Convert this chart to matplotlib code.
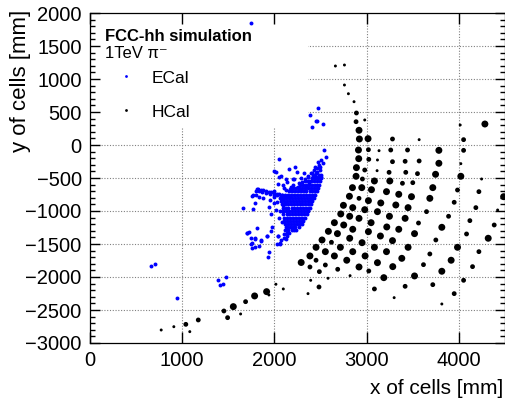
import numpy as np
import matplotlib
matplotlib.use("Agg")
import matplotlib.pyplot as plt
from matplotlib.patches import Rectangle

plt.rcParams['font.family'] = ['Liberation Sans', 'DejaVu Sans']

# ---- ECal cells (x, y in mm): sparse part
ecal = [
    (1741, 1853), (663, -1828), (707, -1803), (946, -2323), (1383, -2050), (1470, -2005),
    (1408, -2121), (1445, -2110),
    (2469, 565), (2385, 450), (2451, 364), (2464, 370), (2527, 314), (2404, 278),
    (2541, -76), (2556, -186), (2523, -277), (2494, -329),
    (2049, -217), (1995, -389), (2016, -404), (2157, -363), (2227, -338), (2248, -404),
    (2320, -419), (2067, -469), (2121, -520), (2201, -520), (2284, -505), (2364, -490),
    (2411, -429), (2466, -404), (2447, -480), (2501, -480),
    (2053, -480), (2042, -591), (2096, -606), (2140, -556), (2183, -632), (2212, -520),
    (2267, -581), (2285, -682), (2339, -632), (2375, -581), (2122, -682),
    (2300, -560), (2330, -520), (2360, -470), (2400, -420), (2430, -380), (2460, -350),
    (2480, -300), (2440, -330), (2250, -640), (2200, -600), (2170, -660), (2100, -650),
    (2000, -700), (2380, -540), (2420, -470), (2455, -420), (2490, -380), (2470, -260),
    (2505, -230),
    (1807, -666), (1821, -672), (1850, -682), (1879, -687), (1908, -697), (1937, -707),
    (1966, -717), (1995, -727), (2024, -738), (2053, -748), (2082, -758), (2111, -768),
    (2140, -778), (2169, -788),
    (1830, -700), (1870, -715), (1910, -725), (1950, -740), (1990, -750), (2030, -765),
    (2070, -780), (2110, -790),
    (1662, -955), (1767, -970), (1760, -773), (1789, -874), (1832, -783), (1941, -945),
    (1966, -1046), (2013, -985), (2060, -1000), (2089, -909), (1814, -1263), (1970, -1248),
    (1923, -1374), (1698, -1328), (1720, -1323), (1789, -1414), (1753, -1490), (1850, -1440),
    (1770, -760), (1796, -690), (1800, -760), (1880, -800), (1950, -830), (2000, -790),
    (1990, -880), (2030, -860),
    (2078, -823), (2111, -884), (2050, -1101), (2086, -1162), (2111, -1288), (2140, -1379),
    (2104, -1414), (2039, -1379), (2060, -1490), (2158, -1328), (2194, -1253), (2129, -1238),
    (1705, -1328), (1749, -1414), (1749, -1500), (1792, -1424), (1792, -1550), (1760, -1565),
    (1836, -1525), (1850, -1459), (1915, -1373), (1945, -1626), (1926, -1702), (1959, -1303),
    (2024, -1500), (2042, -1379), (2060, -1500), (2075, -1439), (2103, -1348), (2129, -1429),
    (2140, -1328),
]

# ---- ECal dense core, row by row: (y, x values)
ecal_core = [
    (-450, [2445, 2478, 2510]),
    (-503, [2404, 2436, 2470, 2500]),
    (-548, [2335, 2368, 2399, 2433, 2462, 2492]),
    (-601, [2274, 2306, 2340, 2371, 2404, 2437, 2466, 2483]),
    (-652, [2205, 2238, 2270, 2302, 2335, 2367, 2400, 2432, 2461, 2474]),
    (-698, [2154, 2187, 2219, 2250, 2284, 2316, 2347, 2381, 2412, 2440, 2458]),
    (-751, [2085, 2118, 2150, 2183, 2214, 2247, 2279, 2311, 2344, 2376, 2407, 2432, 2445]),
    (-799, [2064, 2096, 2129, 2161, 2193, 2226, 2258, 2290, 2322, 2355, 2387, 2412, 2424]),
    (-852, [2070, 2102, 2135, 2167, 2199, 2231, 2264, 2296, 2328, 2360, 2390, 2408]),
    (-898, [2078, 2111, 2143, 2175, 2207, 2240, 2272, 2304, 2336, 2368, 2393]),
    (-951, [2088, 2120, 2152, 2185, 2217, 2249, 2281, 2314, 2346, 2372, 2384]),
    (-1002, [2093, 2126, 2158, 2190, 2222, 2255, 2287, 2319, 2350, 2368]),
    (-1048, [2098, 2131, 2163, 2195, 2228, 2260, 2292, 2324, 2348]),
    (-1101, [2104, 2136, 2168, 2201, 2233, 2265, 2297, 2328]),
    (-1149, [2108, 2140, 2173, 2205, 2237, 2270, 2300, 2314]),
    (-1202, [2113, 2146, 2178, 2210, 2242, 2274, 2298]),
    (-1248, [2132, 2164, 2196, 2228, 2262]),
    (-1290, [2152, 2185, 2217, 2238]),
]

ecal_x = [p[0] for p in ecal] + [x for y, xs in ecal_core for x in xs]
ecal_y = [p[1] for p in ecal] + [y for y, xs in ecal_core for x in xs]

# ---- HCal cells (x, y in mm, relative energy level 1..3)
hcal = [
    (2661, 1197, 1), (2759, 1212, 1), (2759, 909, 1), (2802, 777, 1), (2863, 656, 1),
    (2889, 485, 2), (2979, 379, 1), (2885, 353, 2), (2917, 223, 3), (2921, 91, 3),
    (3015, 96, 3), (3280, 91, 2), (3569, 81, 1),
    (2911, -76, 3), (3019, -71, 2), (3134, -86, 1), (3261, -76, 2), (3443, -76, 2),
    (2914, -207, 3), (3023, -217, 2), (3117, -227, 1), (3280, -253, 2), (3417, -247, 2), (3569, -242, 2),
    (2889, -343, 3), (2979, -379, 2), (3113, -389, 1), (3243, -414, 2), (3424, -414, 2), (3551, -434, 2),
    (2885, -474, 3), (2954, -515, 2), (3084, -545, 3), (3251, -545, 3), (3388, -580, 2), (3500, -571, 2),
    (2846, -646, 3), (2947, -646, 3), (3052, -677, 3), (3215, -707, 3), (3348, -747, 3), (3486, -783, 3),
    (2813, -777, 3), (2917, -808, 2),
    (3019, -843, 3), (3153, -878, 3), (3316, -909, 3),
    (2748, -914, 3), (2849, -949, 3), (2979, -980, 3), (3117, -1010, 3), (3449, -949, 3),
    (2719, -1045, 3), (2816, -1080, 3), (2917, -1111, 3), (3247, -1080, 3), (3417, -1111, 3), (3562, -1182, 2),
    (2650, -1177, 3), (2751, -1212, 3), (3048, -1177, 3), (3218, -1242, 3), (3348, -1277, 3),
    (2585, -1308, 3), (2683, -1343, 3), (2849, -1277, 3), (3019, -1313, 3), (3149, -1379, 3), (3519, -1343, 3),
    (2516, -1439, 3), (2618, -1474, 2), (2816, -1413, 3), (2950, -1480, 3), (3280, -1449, 3), (3449, -1550, 3),
    (2451, -1550, 3), (2552, -1616, 3), (2715, -1550, 3), (2849, -1616, 3), (3084, -1550, 3), (3215, -1616, 3),
    (2385, -1681, 3), (2451, -1746, 2), (2650, -1681, 3), (2983, -1681, 3), (3381, -1717, 3),
    (2290, -1780, 3), (2385, -1848, 2), (2552, -1818, 2), (2784, -1746, 3), (3117, -1783, 3),
    (2686, -1883, 2), (2917, -1848, 3), (3283, -1843, 3),
    (2487, -1919, 2), (3023, -1909, 2),
    (2393, -2050, 1), (2581, -2019, 1), (2820, -1980, 1), (3186, -2010, 3), (3519, -1984, 3),
    (2483, -2151, 2), (3084, -2181, 2), (3417, -2141, 2),
    (2364, -2252, 1), (3298, -2313, 1),
    (4014, 303, 1), (4282, 318, 3), (4051, 81, 2), (3783, -81, 3), (4051, -81, 2),
    (3783, -277, 3), (4021, -283, 1), (3747, -444, 3), (4021, -474, 3), (4246, -515, 1),
    (3717, -646, 3), (3985, -682, 2), (4217, -707, 2), (4485, -783, 3), (3685, -808, 3),
    (3949, -868, 2), (3649, -1010, 2), (4184, -949, 2), (4420, -985, 1), (3888, -1080, 2),
    (4119, -1146, 2), (4383, -1212, 2), (3815, -1247, 3), (4083, -1348, 2), (4318, -1413, 3),
    (3750, -1439, 2), (3985, -1550, 3), (4217, -1616, 2), (3685, -1651, 2), (3916, -1746, 3),
    (3616, -1813, 2), (4148, -1843, 2), (3815, -1913, 3), (4051, -2050, 2), (3717, -2116, 2),
    (3949, -2252, 2), (3815, -2409, 1),
    (772, -2803, 1), (909, -2753, 1), (1039, -2717, 2), (1082, -2828, 1), (1174, -2651, 2),
    (1452, -2515, 2), (1492, -2616, 2), (1554, -2449, 3), (1633, -2560, 1), (1687, -2374, 2),
    (1785, -2287, 3), (1915, -2222, 3), (1940, -2272, 1), (2016, -2110, 1), (2096, -2181, 1),
]
hcal_x = [p[0] for p in hcal]
hcal_y = [p[1] for p in hcal]
hcal_e = [p[2] for p in hcal]

xticks = [0, 1000, 2000, 3000, 4000]
yticks = list(range(-3000, 2001, 500))

fig = plt.figure(figsize=(5.06, 4.0), dpi=100)
ax = fig.add_axes([90/506, 57/400, 415/506, 330/400])
ax.set_xlim(0, 4500)
ax.set_ylim(-3000, 2000)

# dotted grid, hidden behind the legend box
for xv in xticks[1:]:
    ax.axvline(xv, color='#808080', ls=(0, (1, 1.5)), lw=0.8, zorder=0.5)
for yv in yticks[1:-1]:
    ax.axhline(yv, color='#808080', ls=(0, (1, 1.5)), lw=0.8, zorder=0.5)
ax.add_patch(Rectangle((0, 0.655), 0.525, 0.345, transform=ax.transAxes,
                       facecolor='white', edgecolor='none', zorder=1))

sizes = {1: 4.5, 2: 12, 3: 25}
ax.scatter(ecal_x, ecal_y, s=8, c='blue', linewidths=0, zorder=2)
ax.scatter(hcal_x, hcal_y, s=[sizes[e] for e in hcal_e], c='black', linewidths=0, zorder=2)

ax.set_xticks(xticks)
ax.set_yticks(yticks)
ax.set_yticks(range(-3000, 2001, 100), minor=True)
ax.tick_params(which='both', direction='in', top=True, right=True, labelsize=14.5, pad=6, width=1.0)
ax.tick_params(axis='x', which='major', length=8)
ax.tick_params(axis='y', which='major', length=7.2)
ax.tick_params(axis='y', which='minor', length=3.6)
for s in ax.spines.values():
    s.set_linewidth(0.9)

ax.set_xlabel('x of cells [mm]', fontsize=15, loc='right')
ax.xaxis.label.set_va('center')
ax.xaxis.set_label_coords(0.995, -0.138)
ax.set_ylabel('y of cells [mm]', fontsize=16, loc='top')
ax.yaxis.set_label_coords(-0.142, 1.01)

# legend
ax.text(0.036, 0.930, 'FCC-hh simulation', transform=ax.transAxes, fontsize=12,
        fontweight='bold', va='center', zorder=3)
ax.text(0.036, 0.876, '1TeV π⁻', transform=ax.transAxes, fontsize=12, va='center', zorder=3)
ax.plot([0.087], [0.809], 'o', ms=2, color='blue', mec='none', transform=ax.transAxes, zorder=3)
ax.text(0.149, 0.803, 'ECal', transform=ax.transAxes, fontsize=12.5, va='center', zorder=3)
ax.plot([0.087], [0.706], 'o', ms=2, color='black', mec='none', transform=ax.transAxes, zorder=3)
ax.text(0.149, 0.700, 'HCal', transform=ax.transAxes, fontsize=12.5, va='center', zorder=3)

fig.savefig('out.png', dpi=100)
